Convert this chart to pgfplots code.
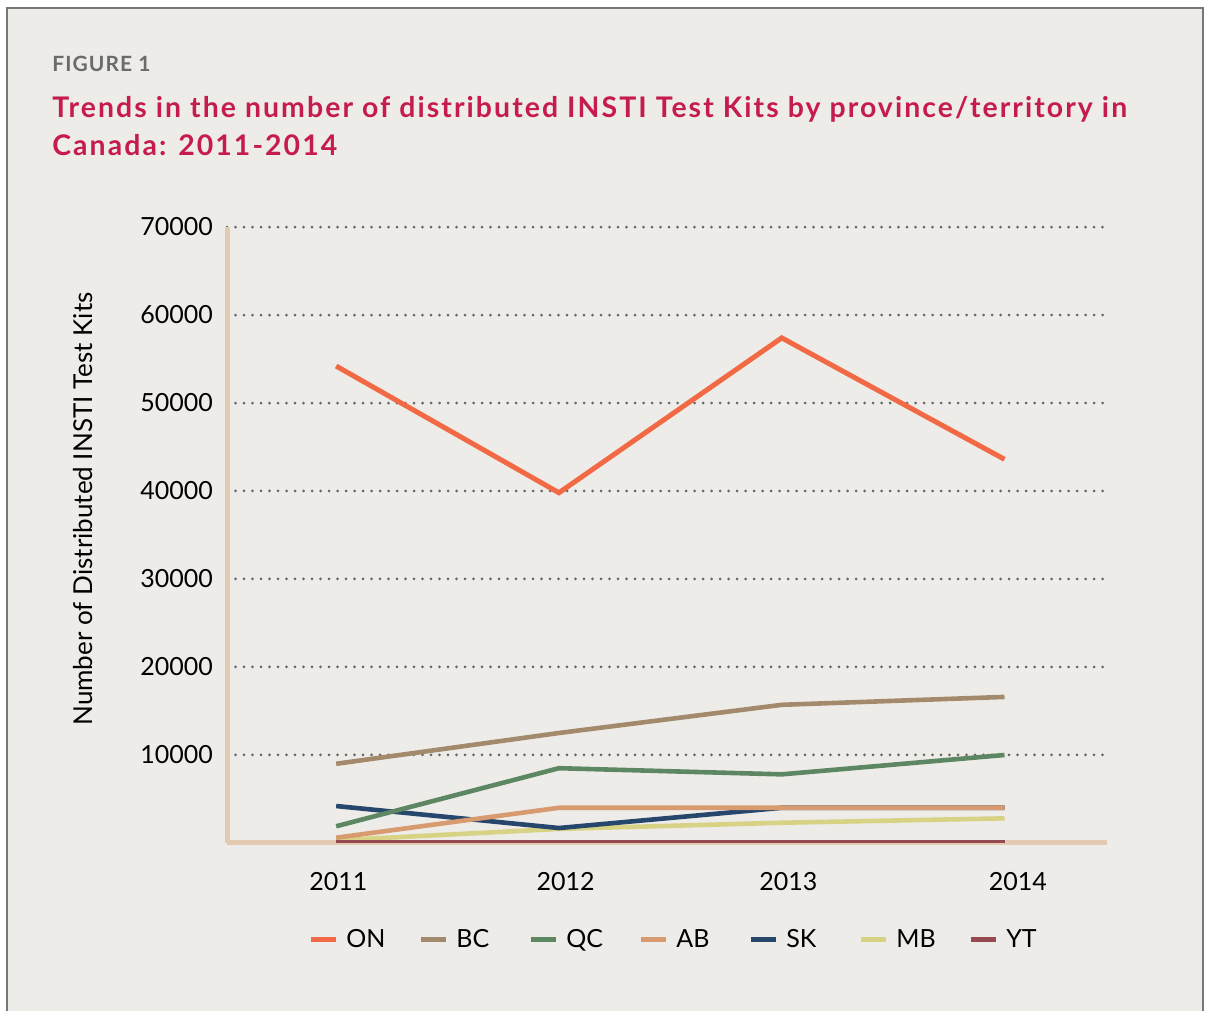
\documentclass[border=0pt]{standalone}
\usepackage{pgfplots}
\pgfplotsset{compat=1.18}
\usepackage{fontspec}
\setmainfont{Lato}
\definecolor{oncol}{HTML}{F26A45}
\definecolor{bccol}{HTML}{A38A6C}
\definecolor{qccol}{HTML}{5C8762}
\definecolor{abcol}{HTML}{D89A6F}
\definecolor{skcol}{HTML}{26466C}
\definecolor{mbcol}{HTML}{D8D285}
\definecolor{ytcol}{HTML}{944A50}
\definecolor{axisc}{HTML}{E5CAB2}
\definecolor{gridc}{HTML}{666666}
\definecolor{titlec}{HTML}{C61B4F}
\definecolor{figc}{HTML}{6B6B6B}
\definecolor{bgc}{HTML}{EEECE8}
\definecolor{bordc}{HTML}{777777}
\begin{document}
\begin{tikzpicture}
\useasboundingbox (0,0) rectangle (603.5pt,505.5pt);
\fill[white] (0,0) rectangle (603.5pt,505.5pt);
\fill[bgc] (3.5pt,0) rectangle (601.5pt,501.5pt);
\draw[bordc, line width=1.2pt] (3.5pt,0) -- (3.5pt,501.5pt) -- (601.5pt,501.5pt) -- (601.5pt,0);
\node[anchor=base west, inner sep=0pt, text=figc, font=\fontsize{10.5}{12}\selectfont\bfseries\addfontfeature{LetterSpace=5}] at (26pt,469.5pt) {FIGURE 1};
\node[anchor=base west, inner sep=0pt, text=titlec, font=\fontsize{14.2}{17}\selectfont\bfseries\addfontfeature{LetterSpace=7.3}] at (26pt,446.5pt) {Trends in the number of distributed INSTI Test Kits by province/territory in};
\node[anchor=base west, inner sep=0pt, text=titlec, font=\fontsize{14.2}{17}\selectfont\bfseries\addfontfeature{LetterSpace=7.3}] at (26pt,427.5pt) {Canada: 2011-2014};
\node[rotate=90, inner sep=0pt, font=\fontsize{13}{15}\selectfont] at (41.5pt,251pt) {Number of Distributed INSTI Test Kits};
\begin{axis}[
  at={(113.5pt,84pt)}, anchor=south west, scale only axis,
  width=440pt, height=308pt,
  xmin=2010.51, xmax=2014.46, ymin=0, ymax=70000,
  axis lines=left, axis line style={-, draw=axisc, line width=2.5pt},
  xtick={2011.01,2012.03,2013.03,2014.06}, xticklabels={2011,2012,2013,2014},
  ytick={10000,20000,30000,40000,50000,60000,70000},
  yticklabels={10000,20000,30000,40000,50000,60000,70000},
  scaled ticks=false,
  major tick length=0pt,
  ymajorgrids,
  grid style={gridc, line width=1.5pt, dash pattern=on 0pt off 4.25pt, line cap=round},
  ticklabel style={font=\fontsize{12.5}{15}\selectfont},
  yticklabel style={xshift=-3.5pt},
  xticklabel style={yshift=-11pt},
  legend columns=7,
  legend style={draw=none, fill=none, at={(0.092,-0.157)}, anchor=west, inner sep=0pt,
    nodes={inner sep=0pt}, column sep=0pt, font=\fontsize{12.5}{15}\selectfont},
  legend image code/.code={\draw[#1] (0pt,0pt) -- (12.5pt,0pt);},
]
\addlegendimage{oncol, line width=2.5pt}
\addlegendentry{\hspace{4pt}\makebox[36pt][l]{ON}}
\addlegendimage{bccol, line width=2.5pt}
\addlegendentry{\hspace{4pt}\makebox[36pt][l]{BC}}
\addlegendimage{qccol, line width=2.5pt}
\addlegendentry{\hspace{4pt}\makebox[36pt][l]{QC}}
\addlegendimage{abcol, line width=2.5pt}
\addlegendentry{\hspace{4pt}\makebox[36pt][l]{AB}}
\addlegendimage{skcol, line width=2.5pt}
\addlegendentry{\hspace{4pt}\makebox[36pt][l]{SK}}
\addlegendimage{mbcol, line width=2.5pt}
\addlegendentry{\hspace{4pt}\makebox[36pt][l]{MB}}
\addlegendimage{ytcol, line width=2.5pt}
\addlegendentry{\hspace{4pt}\makebox[12pt][l]{YT}}

\addplot[mbcol, line width=2.3pt, forget plot] coordinates {(2011,300) (2012,1600) (2013,2300) (2014,2800)};
\addplot[skcol, line width=2.3pt, forget plot] coordinates {(2011,4200) (2012,1700) (2013,4000) (2014,4000)};
\addplot[qccol, line width=2.3pt, forget plot] coordinates {(2011,1900) (2012,8500) (2013,7800) (2014,10000)};
\addplot[abcol, line width=2.3pt, forget plot] coordinates {(2011,600) (2012,4000) (2013,4000) (2014,4000)};
\addplot[bccol, line width=2.3pt, forget plot] coordinates {(2011,9000) (2012,12500) (2013,15700) (2014,16600)};
\addplot[oncol, line width=2.5pt, forget plot] coordinates {(2011,54200) (2012,39800) (2013,57400) (2014,43600)};
\addplot[ytcol, line width=2.3pt, forget plot] coordinates {(2011,100) (2012,100) (2013,100) (2014,100)};
\end{axis}
\end{tikzpicture}
\end{document}
